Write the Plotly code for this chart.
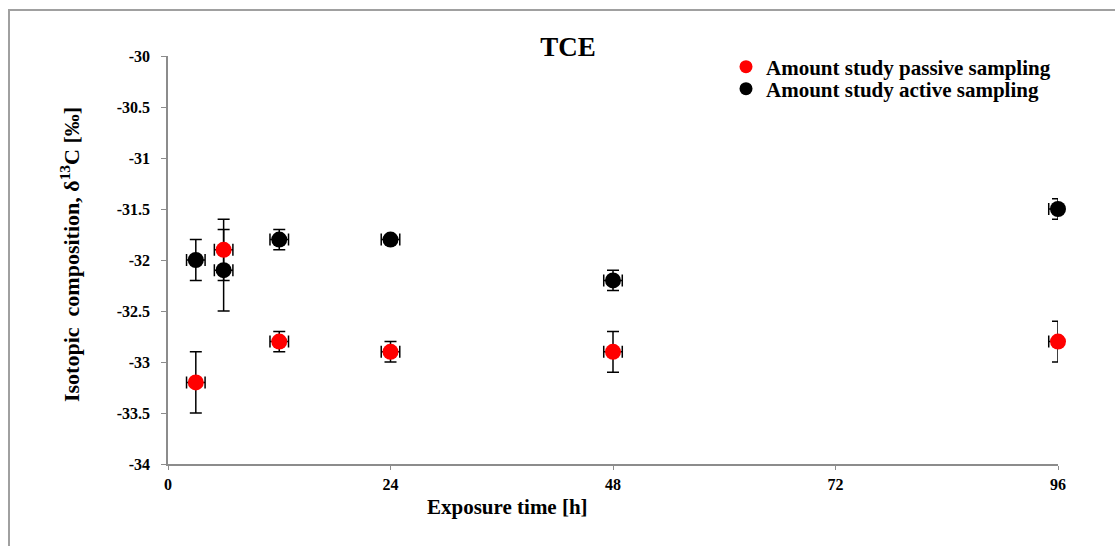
import plotly.graph_objects as go

# Data
x_passive = [3, 6, 12, 24, 48, 96]
y_passive = [-33.2, -31.9, -32.8, -32.9, -32.9, -32.8]
ey_passive = [0.3, 0.3, 0.1, 0.1, 0.2, 0.2]
ex_plus_passive = [1, 1, 1, 1, 1, 0]
ex_minus_passive = [1, 1, 1, 1, 1, 1]

x_active = [3, 6, 12, 24, 48, 96]
y_active = [-32.0, -32.1, -31.8, -31.8, -32.2, -31.5]
ey_active = [0.2, 0.4, 0.1, 0.0, 0.1, 0.1]
ex_plus_active = [1, 1, 1, 1, 1, 0]
ex_minus_active = [1, 1, 1, 1, 1, 1]

x_ticks = [0, 24, 48, 72, 96]
y_ticks = [-34, -33.5, -33, -32.5, -32, -31.5, -31, -30.5, -30]

FONT = "Liberation Serif"

L, R, T, B = 168, 57, 56, 82
W, H = 1115, 546
pw, ph = W - L - R, H - T - B

fig = go.Figure()

def add_series(x, y, ey, exp, exm, color, name, legend):
    fig.add_trace(go.Scatter(
        x=x, y=y, mode="markers", name=name, showlegend=False,
        marker=dict(color=color, size=16, line=dict(width=0)),
        error_y=dict(type="data", array=ey, visible=True, color="black",
                     thickness=1.5, width=6),
        error_x=dict(type="data", symmetric=False, array=exp, arrayminus=exm,
                     visible=True, color="black", thickness=1.5, width=6),
        cliponaxis=False,
    ))
    fig.add_trace(go.Scatter(
        x=[None], y=[None], mode="markers", name=f"<b>{name}</b>", legend=legend,
        marker=dict(color=color, size=13),
    ))

add_series(x_active, y_active, ey_active, ex_plus_active, ex_minus_active,
           "#000000", "Amount study active sampling", "legend2")
add_series(x_passive, y_passive, ey_passive, ex_plus_passive, ex_minus_passive,
           "#FF0000", "Amount study passive sampling", "legend")

leg_common = dict(xanchor="left", yanchor="middle", itemwidth=30,
                  font=dict(size=21, family=FONT, color="black"),
                  bgcolor="rgba(0,0,0,0)")

tick_font = dict(size=16, family=FONT, color="black", weight="bold")

fig.update_layout(
    width=W, height=H,
    margin=dict(l=L, r=R, t=T, b=B),
    paper_bgcolor="white", plot_bgcolor="white",
    font=dict(family=FONT, color="black"),
    title=dict(text="<b>TCE</b>", x=568 / W, xanchor="center",
               y=1 - 47 / H, yanchor="middle", yref="container",
               font=dict(size=27, family=FONT, color="black")),
    legend=dict(x=(726 - L) / pw, y=(T + ph - 67) / ph, **leg_common),
    legend2=dict(x=(726 - L) / pw, y=(T + ph - 89) / ph, **leg_common),
    xaxis=dict(range=[0, 96], tickvals=x_ticks, ticktext=[str(t) for t in x_ticks],
               showgrid=False, zeroline=False, showline=True, linecolor="#8c8c8c",
               linewidth=1.5, ticks="outside", ticklen=4, tickcolor="#8c8c8c",
               ticklabelstandoff=1, tickfont=tick_font),
    yaxis=dict(range=[-34, -30], tickvals=y_ticks,
               ticktext=[f"{t:g}" for t in y_ticks],
               showgrid=False, zeroline=False, showline=True, linecolor="#8c8c8c",
               linewidth=1.5, ticks="outside", ticklen=5, tickcolor="#8c8c8c",
               ticklabelstandoff=8, tickfont=tick_font),
    annotations=[
        dict(text="<b>Exposure time [h]</b>", x=(507 - L) / pw, y=-(507 - (T + ph)) / ph,
             xref="paper", yref="paper", xanchor="center", yanchor="middle",
             showarrow=False, font=dict(size=21, family=FONT, color="black")),
        dict(text="<b>Isotopic  composition, δ<sup>13</sup>C [‰]</b>",
             x=-(L - 70) / pw, y=(T + ph - 255) / ph, xref="paper", yref="paper",
             xanchor="center", yanchor="middle", textangle=-90,
             showarrow=False, font=dict(size=22, family=FONT, color="black")),
    ],
    shapes=[
        dict(type="rect", xref="paper", yref="paper",
             x0=(9 - L) / pw, x1=(W + 20 - L) / pw,
             y0=-(H + 20 - (T + ph)) / ph, y1=((T + ph) - 10) / ph,
             line=dict(color="#a0a0a0", width=2), fillcolor="rgba(0,0,0,0)",
             layer="below"),
    ],
)

fig.write_html("out.html")
